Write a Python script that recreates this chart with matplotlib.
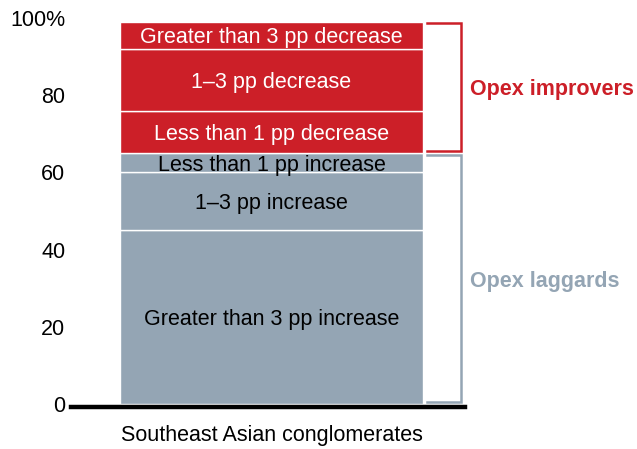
import matplotlib.pyplot as plt

plt.rcParams['font.family'] = ['Liberation Sans', 'DejaVu Sans']

# share of companies by change in opex ratio, bottom to top
segments = ['Greater than 3 pp increase', '1\u20133 pp increase', 'Less than 1 pp increase',
            'Less than 1 pp decrease', '1\u20133 pp decrease', 'Greater than 3 pp decrease']
shares = [45, 15, 5, 11, 16, 7]
groups = ['laggard', 'laggard', 'laggard', 'improver', 'improver', 'improver']
category = 'Southeast Asian conglomerates'
yticks = [0, 20, 40, 60, 80, 100]
ytick_labels = ['0', '20', '40', '60', '80', '100%']

red = '#CC1F28'
grey = '#94A5B4'
colors = {'improver': red, 'laggard': grey}
text_colors = {'improver': 'white', 'laggard': 'black'}
fs = 15.5

fig = plt.figure(figsize=(6.37, 4.49), dpi=100)
ax = fig.add_axes([71 / 637, 45 / 449, 394 / 637, 386 / 449])

for s in ['left', 'right', 'top']:
    ax.spines[s].set_visible(False)
ax.spines['bottom'].set_position(('outward', 2.2))
ax.spines['bottom'].set_linewidth(3.2)
ax.spines['bottom'].set_color('black')
ax.spines['bottom'].set_zorder(4)

xc, w = 0.509, 0.769
bottom = 0
for name, val, g in zip(segments, shares, groups):
    ax.bar(xc, val, width=w, bottom=bottom, color=colors[g],
           edgecolor='white', linewidth=1.0, zorder=2)
    ax.text(xc, bottom + val / 2, name, ha='center', va='center_baseline',
            color=text_colors[g], fontsize=fs, zorder=3)
    bottom += val
total = bottom

# brackets for the two groups
imp = sum(v for v, g in zip(shares, groups) if g == 'improver')
lag = sum(v for v, g in zip(shares, groups) if g == 'laggard')
x0, x1 = 0.904, 0.99
ax.plot([x0, x1, x1, x0], [total - 0.3, total - 0.3, lag + 0.5, lag + 0.5],
        color=red, lw=1.8, solid_joinstyle='miter', clip_on=False)
ax.plot([x0, x1, x1, x0], [lag - 0.5, lag - 0.5, 0.4, 0.4],
        color=grey, lw=1.8, solid_joinstyle='miter', clip_on=False)
ax.text(1.012, lag + imp / 2, 'Opex improvers', color=red, fontsize=fs,
        fontweight='bold', ha='left', va='center_baseline',
        transform=ax.get_yaxis_transform(), clip_on=False)
ax.text(1.012, lag / 2, 'Opex laggards', color=grey, fontsize=fs,
        fontweight='bold', ha='left', va='center_baseline',
        transform=ax.get_yaxis_transform(), clip_on=False)

ax.set_xlim(0, 1)
ax.set_ylim(0, 100)
ax.set_yticks(yticks)
ax.set_yticklabels(ytick_labels)
ax.set_xticks([xc])
ax.set_xticklabels([category])
ax.tick_params(axis='both', length=0, labelsize=fs)
ax.tick_params(axis='y', pad=4)
ax.tick_params(axis='x', pad=13)

fig.savefig('out.png', dpi=100)
